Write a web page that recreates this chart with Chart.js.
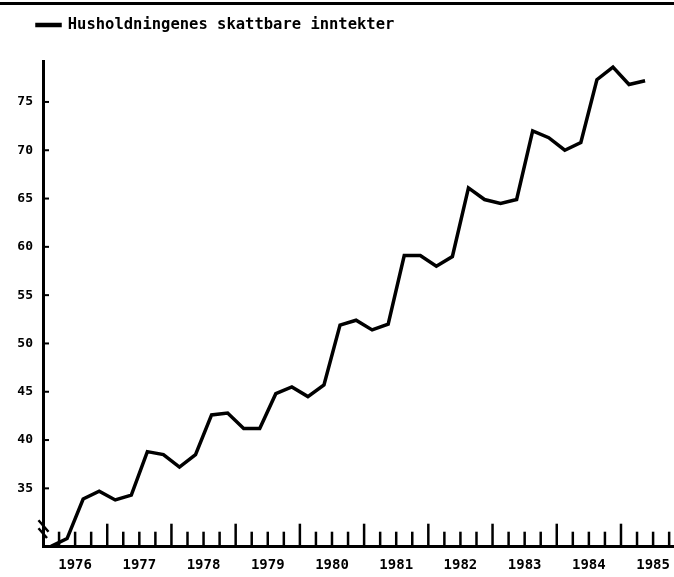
<!DOCTYPE html>
<html>
<head>
<meta charset="utf-8">
<script src="https://cdn.jsdelivr.net/npm/chart.js@4.4.1/dist/chart.umd.min.js"></script>
<style>
  html, body { margin: 0; padding: 0; background: #fff; }
  #wrap { width: 674px; height: 577px; position: relative; }
</style>
</head>
<body>
<div id="wrap"><canvas id="chart"></canvas></div>
<script>
// kvartalstall, 1976 K1 - 1985 K2
const startYear = 1976;
const yearLabels = ['1976', '1977', '1978', '1979', '1980', '1981', '1982', '1983', '1984', '1985'];
const yTicks = [35, 40, 45, 50, 55, 60, 65, 70, 75];
const seriesLabel = 'Husholdningenes skattbare inntekter';
const income = [
    29.0, 29.8, 33.9, 34.7,
    33.8, 34.3, 38.8, 38.5,
    37.2, 38.5, 42.6, 42.8,
    41.2, 41.2, 44.8, 45.5,
    44.5, 45.7, 51.9, 52.4,
    51.4, 52.0, 59.1, 59.1,
    58.0, 59.0, 66.1, 64.9,
    64.5, 64.9, 72.0, 71.3,
    70.0, 70.8, 77.3, 78.6,
    76.8, 77.2
];

const mono = '"DejaVu Sans Mono", "Liberation Mono", monospace';

// each value is placed in the middle of its quarter
const points = income.map((v, i) => ({ x: startYear + (i + 0.5) / 4, y: v }));

const axisMarks = {
    id: 'axisMarks',
    afterDraw(chart) {
        const { ctx, chartArea, scales: { x, y } } = chart;
        const left = chartArea.left;
        const bottom = chartArea.bottom;
        ctx.save();
        ctx.fillStyle = '#000';
        ctx.fillRect(0, 2, chart.width, 3);

        ctx.strokeStyle = '#000';
        ctx.lineWidth = 2.5;
        ctx.lineCap = 'butt';
        // quarter ticks, taller at each new year
        for (let k = 1; startYear + k / 4 <= x.max; k++) {
            const px = x.getPixelForValue(startYear + k / 4);
            const len = k % 4 === 0 ? 23 : 15;
            ctx.beginPath();
            ctx.moveTo(px, bottom);
            ctx.lineTo(px, bottom - len);
            ctx.stroke();
        }
        // small ticks inside the y axis
        ctx.lineWidth = 2;
        yTicks.forEach(v => {
            const py = y.getPixelForValue(v);
            ctx.beginPath();
            ctx.moveTo(left, py);
            ctx.lineTo(left + 6, py);
            ctx.stroke();
        });
        // axis break
        ctx.lineWidth = 2.5;
        ctx.beginPath();
        ctx.moveTo(left - 4.5, bottom - 26.5);
        ctx.lineTo(left + 5.5, bottom - 15);
        ctx.moveTo(left - 4.5, bottom - 18.5);
        ctx.lineTo(left + 4, bottom - 8.7);
        ctx.stroke();
        ctx.restore();
    }
};

new Chart(document.getElementById('chart'), {
    type: 'line',
    data: {
        datasets: [{
            label: seriesLabel,
            data: points,
            borderColor: '#000',
            backgroundColor: '#000',
            borderWidth: 3.5,
            pointRadius: 0,
            tension: 0,
            fill: false,
            clip: false
        }]
    },
    options: {
        responsive: true,
        maintainAspectRatio: false,
        animation: false,
        layout: { padding: { top: -4.75, left: 15, right: 1, bottom: 0 } },
        plugins: {
            legend: {
                position: 'top',
                align: 'start',
                labels: {
                    color: '#000',
                    boxWidth: 23,
                    boxHeight: 1,
                    padding: 22,
                    font: { family: mono, size: 15.5, weight: 'bold' }
                }
            },
            // empty spacer between legend and plot
            subtitle: {
                display: true,
                text: '',
                weight: 500,
                padding: { top: 0, bottom: 7.2 },
                font: { size: 10 }
            },
            tooltip: { enabled: false }
        },
        scales: {
            x: {
                type: 'linear',
                min: startYear,
                max: 1985.81,
                grid: { display: false, drawTicks: true, tickLength: 7 },
                border: { display: true, color: '#000', width: 3 },
                afterBuildTicks: scale => {
                    scale.ticks = yearLabels.map((l, i) => ({ value: startYear + i + 0.5 }));
                },
                afterFit: scale => { scale.height = 30.3; },
                ticks: {
                    autoSkip: false,
                    maxRotation: 0,
                    padding: 3,
                    color: '#000',
                    font: { family: mono, size: 14, weight: 'bold' },
                    callback: (value, index) => yearLabels[index]
                }
            },
            y: {
                type: 'linear',
                min: 28.96,
                max: 79.14,
                grid: { display: false, drawTicks: false },
                border: { display: true, color: '#000', width: 3 },
                afterBuildTicks: scale => {
                    scale.ticks = yTicks.map(v => ({ value: v }));
                },
                afterFit: scale => { scale.width = 28; },
                ticks: {
                    padding: 10,
                    color: '#000',
                    font: { family: mono, size: 13, weight: 'bold' }
                }
            }
        }
    },
    plugins: [axisMarks]
});
</script>
</body>
</html>
